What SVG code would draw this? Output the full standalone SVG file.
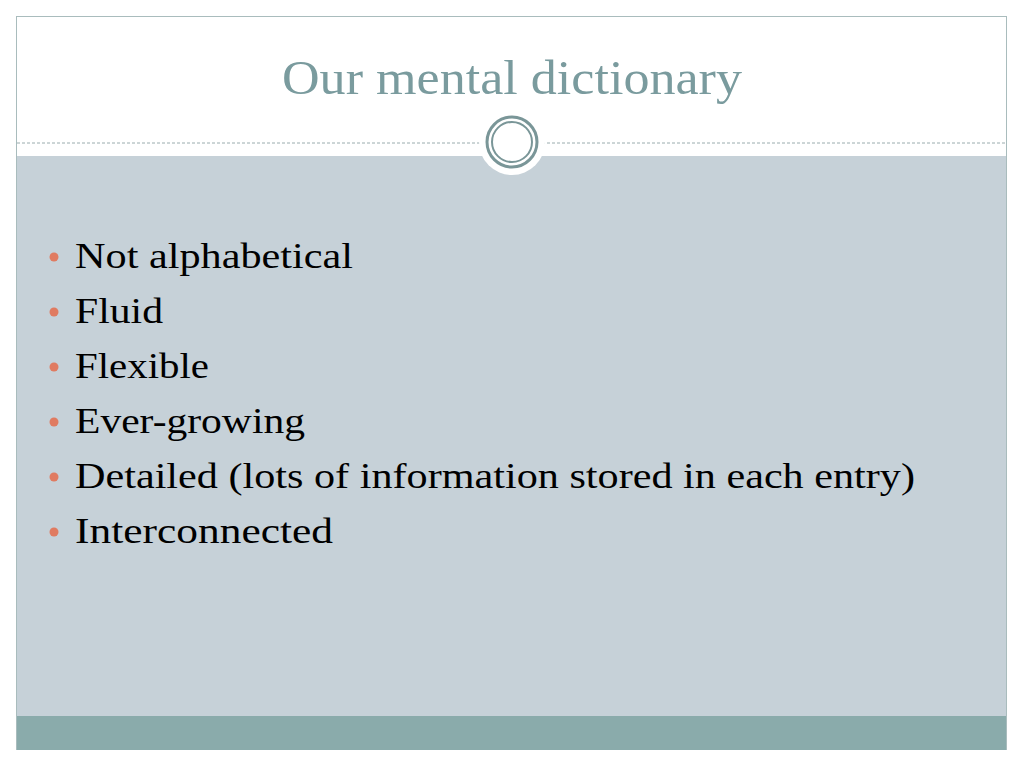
<svg xmlns="http://www.w3.org/2000/svg" width="1024" height="768" viewBox="0 0 1024 768">
<style>
.b{font-family:"Liberation Serif",serif;font-size:36px;fill:#000}
.d{fill:#e07b61}
</style>
<rect width="1024" height="768" fill="#fff"/>
<rect x="16.5" y="16.5" width="990" height="733" fill="#fff" stroke="#a9bcbd"/>
<rect x="17" y="156" width="989" height="560" fill="#c6d1d8"/>
<rect x="17" y="716" width="989" height="34" fill="#8aabab"/>
<line x1="17" y1="143" x2="1006" y2="143" stroke="#9aacae" stroke-dasharray="3,2"/>
<circle cx="512" cy="142" r="33" fill="#fff"/>
<circle cx="512" cy="142" r="25" fill="none" stroke="#7a9698" stroke-width="3"/>
<circle cx="512" cy="142" r="20" fill="none" stroke="#7a9698" stroke-width="2"/>
<text x="282" y="94" textLength="460" lengthAdjust="spacingAndGlyphs" font-family="Liberation Serif,serif" font-size="48" fill="#7a9b9e">Our mental dictionary</text>
<g>
<circle class="d" cx="54" cy="257" r="4.5"/><text class="b" x="75" y="268" textLength="278" lengthAdjust="spacingAndGlyphs">Not alphabetical</text>
<circle class="d" cx="54" cy="312" r="4.5"/><text class="b" x="75" y="323" textLength="88" lengthAdjust="spacingAndGlyphs">Fluid</text>
<circle class="d" cx="54" cy="367" r="4.5"/><text class="b" x="75" y="378" textLength="134" lengthAdjust="spacingAndGlyphs">Flexible</text>
<circle class="d" cx="54" cy="422" r="4.5"/><text class="b" x="75" y="433" textLength="230" lengthAdjust="spacingAndGlyphs">Ever-growing</text>
<circle class="d" cx="54" cy="477" r="4.5"/><text class="b" x="75" y="488" textLength="840" lengthAdjust="spacingAndGlyphs">Detailed (lots of information stored in each entry)</text>
<circle class="d" cx="54" cy="532" r="4.5"/><text class="b" x="75" y="543" textLength="258" lengthAdjust="spacingAndGlyphs">Interconnected</text>
</g>
</svg>
